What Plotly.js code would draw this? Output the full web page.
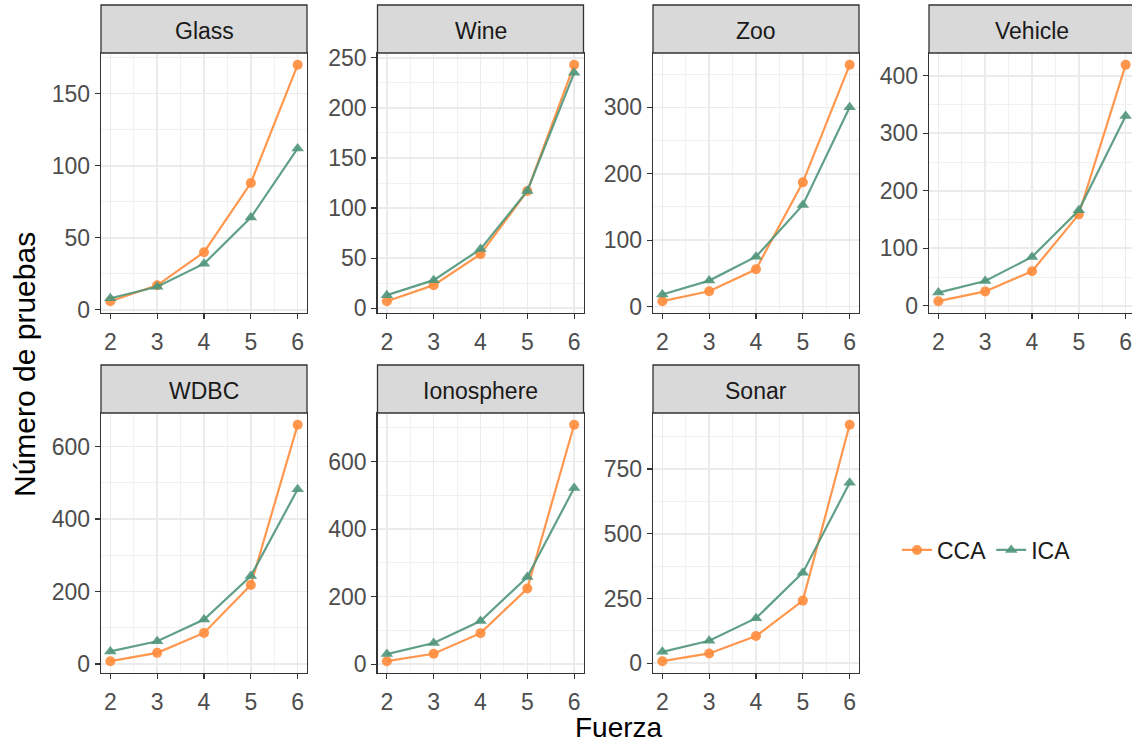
<!DOCTYPE html>
<html>
<head>
<meta charset="utf-8">
<script src="https://cdn.plot.ly/plotly-3.0.1.min.js"></script>
<style>
html,body{margin:0;padding:0;overflow:hidden;background:#fff;}
#chart{width:1136px;height:742px;}
</style>
</head>
<body>
<div id="chart"></div>
<script>
// ---- data ----
const fuerza = [2, 3, 4, 5, 6];
const datasets = ['Glass', 'Wine', 'Zoo', 'Vehicle', 'WDBC', 'Ionosphere', 'Sonar'];
const seriesNames = ['CCA', 'ICA'];

const ccaGlass = [6, 17, 40, 88, 170];
const icaGlass = [8, 16, 32, 64, 112];
const ccaWine = [7, 23, 54, 117, 243];
const icaWine = [13, 28, 59, 117, 235];
const ccaZoo = [8, 23, 56, 187, 364];
const icaZoo = [18, 39, 75, 153, 300];
const ccaVehicle = [8, 25, 60, 159, 419];
const icaVehicle = [23, 43, 85, 166, 330];
const ccaWDBC = [8, 31, 86, 218, 660];
const icaWDBC = [35, 63, 123, 243, 482];
const ccaIonosphere = [9, 31, 92, 224, 709];
const icaIonosphere = [30, 63, 128, 258, 522];
const ccaSonar = [8, 38, 105, 242, 921];
const icaSonar = [44, 87, 174, 350, 697];

const yTickStep = [50, 50, 100, 100, 200, 200, 250];

const ccaAll = [ccaGlass, ccaWine, ccaZoo, ccaVehicle, ccaWDBC, ccaIonosphere, ccaSonar];
const icaAll = [icaGlass, icaWine, icaZoo, icaVehicle, icaWDBC, icaIonosphere, icaSonar];

// ---- layout geometry (px) ----
const W = 1136, H = 742;
const colLeft = [101, 377.5, 653, 929];
const panelW = 206;
const rowTop = [53, 413];
const panelH = 260;
const stripH = 48;

const orange = 'rgba(255,140,60,0.9)';
const green = 'rgba(80,150,122,0.9)';
const FONT = 'Liberation Sans, Arial, sans-serif';

const traces = [];
const layout = {
  width: W, height: H,
  margin: {l: 0, r: 0, t: 0, b: 0},
  paper_bgcolor: '#fff',
  plot_bgcolor: '#fff',
  font: {family: FONT},
  showlegend: true,
  legend: {
    orientation: 'h',
    x: 897 / W, y: 1 - 550 / H,
    xanchor: 'left', yanchor: 'middle',
    font: {size: 23, color: '#1A1A1A', family: FONT},
    bgcolor: 'rgba(0,0,0,0)',
    itemwidth: 30,
    tracegroupgap: 0
  },
  shapes: [],
  annotations: []
};

datasets.forEach((name, i) => {
  const row = i < 4 ? 0 : 1;
  const col = i % 4;
  const idx = i + 1;
  const xa = 'xaxis' + (idx === 1 ? '' : idx);
  const ya = 'yaxis' + (idx === 1 ? '' : idx);
  const xr = 'x' + (idx === 1 ? '' : idx);
  const yr = 'y' + (idx === 1 ? '' : idx);

  const x0 = colLeft[col] / W, x1 = (colLeft[col] + panelW) / W;
  const yTopPx = rowTop[row], yBotPx = rowTop[row] + panelH;
  const y0 = 1 - yBotPx / H, y1 = 1 - yTopPx / H;

  const all = ccaAll[i].concat(icaAll[i]);
  const mn = Math.min(...all), mx = Math.max(...all);
  const pad = (mx - mn) * 0.05;
  const dt = yTickStep[i];

  const common = {
    showline: true, mirror: true, linecolor: '#333', linewidth: 1.3,
    ticks: 'outside', ticklen: 5, tickwidth: 1.2, tickcolor: '#333',
    tickfont: {size: 23, color: '#4D4D4D', family: FONT},
    showgrid: true, gridcolor: '#EBEBEB', gridwidth: 1.6,
    zeroline: false, fixedrange: true
  };

  layout[xa] = Object.assign({}, common, {
    domain: [x0, x1], anchor: yr,
    range: [1.8, 6.2], tickmode: 'linear', tick0: 2, dtick: 1,
    ticklabelstandoff: 3,
    minor: {tickmode: 'linear', tick0: 1.5, dtick: 0.5, showgrid: true, gridcolor: '#EEEEEE', gridwidth: 0.8, ticklen: 0}
  });
  layout[ya] = Object.assign({}, common, {
    domain: [y0, y1], anchor: xr,
    range: [mn - pad, mx + pad], tickmode: 'linear', tick0: 0, dtick: dt,
    minor: {tickmode: 'linear', tick0: 0, dtick: dt / 2, showgrid: true, gridcolor: '#EEEEEE', gridwidth: 0.8, ticklen: 0}
  });

  // strip
  layout.shapes.push({
    type: 'rect', xref: 'paper', yref: 'paper',
    x0: x0, x1: x1, y0: y1, y1: 1 - (yTopPx - stripH) / H,
    fillcolor: '#D9D9D9', line: {color: '#333', width: 1.3}, layer: 'above'
  });
  layout.annotations.push({
    xref: 'paper', yref: 'paper',
    x: (x0 + x1) / 2, y: 1 - (yTopPx - stripH / 2 + 2) / H,
    text: name, showarrow: false, xanchor: 'center', yanchor: 'middle',
    font: {size: 23, color: '#1A1A1A', family: FONT}
  });

  traces.push({
    x: fuerza, y: ccaAll[i], xaxis: xr, yaxis: yr,
    type: 'scatter', mode: 'lines+markers', name: seriesNames[0],
    legendgroup: 'cca', showlegend: i === 0,
    line: {color: orange, width: 2.2},
    marker: {color: orange, size: 10, symbol: 'circle'}
  });
  traces.push({
    x: fuerza, y: icaAll[i], xaxis: xr, yaxis: yr,
    type: 'scatter', mode: 'lines+markers', name: seriesNames[1],
    legendgroup: 'ica', showlegend: i === 0,
    line: {color: green, width: 2.2},
    marker: {color: green, size: 11, symbol: 'triangle-up'}
  });
});

// global axis titles
layout.annotations.push({
  xref: 'paper', yref: 'paper', x: 619 / W, y: 1 - 727 / H,
  text: 'Fuerza', showarrow: false, xanchor: 'center', yanchor: 'middle',
  font: {size: 28, color: '#000', family: FONT}
});
layout.annotations.push({
  xref: 'paper', yref: 'paper', x: 24 / W, y: 1 - 365 / H,
  text: 'Número de pruebas', showarrow: false, textangle: -90,
  xanchor: 'center', yanchor: 'middle',
  font: {size: 30, color: '#000', family: FONT}
});

Plotly.newPlot('chart', traces, layout, {staticPlot: true, displayModeBar: false});
</script>
</body>
</html>
